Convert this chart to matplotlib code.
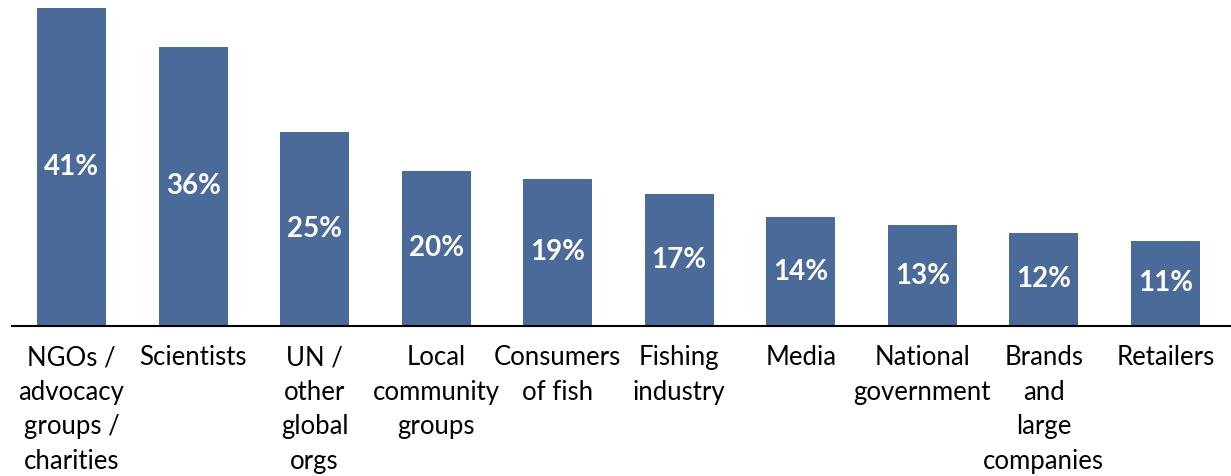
import matplotlib
matplotlib.use("Agg")
import matplotlib.pyplot as plt

plt.rcParams["font.family"] = ["Lato", "DejaVu Sans"]

categories = [
    "NGOs /\nadvocacy\ngroups /\ncharities",
    "Scientists",
    "UN /\nother\nglobal\norgs",
    "Local\ncommunity\ngroups",
    "Consumers\nof fish",
    "Fishing\nindustry",
    "Media",
    "National\ngovernment",
    "Brands\nand\nlarge\ncompanies",
    "Retailers",
]
values = [41, 36, 25, 20, 19, 17, 14, 13, 12, 11]

BAR_COLOR = "#4A6A9A"

fig = plt.figure(figsize=(12.31, 4.76), dpi=100)
ax = fig.add_axes([12 / 1231, 150 / 476, 1219 / 1231, 326 / 476])

x = list(range(len(values)))
bars = ax.bar(x, values, width=0.567, color=BAR_COLOR)

for b, v in zip(bars, values):
    ax.text(b.get_x() + b.get_width() / 2, v / 2, f"{v}%",
            ha="center", va="center", color="white",
            fontsize=20, fontweight="bold")

ax.set_xlim(-0.49, 9.54)
ax.set_ylim(0, 42)
ax.set_yticks([])
ax.set_xticks(x)
ax.set_xticklabels(categories, fontsize=18.5, linespacing=1.47, va="top")
ax.tick_params(axis="x", length=0, pad=14)

for side in ["top", "right", "left"]:
    ax.spines[side].set_visible(False)
ax.spines["bottom"].set_linewidth(1.5)

fig.savefig("out.png", dpi=100)
